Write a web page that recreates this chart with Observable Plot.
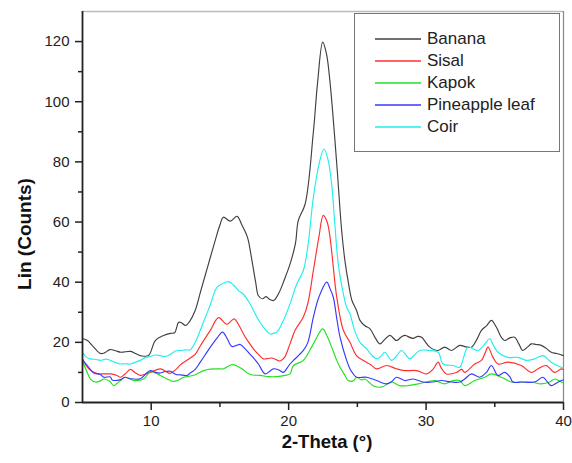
<!DOCTYPE html>
<html>
<head>
<meta charset="utf-8">
<script src="https://cdn.jsdelivr.net/npm/d3@7"></script>
<script src="https://cdn.jsdelivr.net/npm/@observablehq/plot@0.6"></script>
<style>
  body { margin: 0; background: #fff; }
  #wrap { position: relative; width: 572px; height: 463px; font-family: "Liberation Sans", Arial, sans-serif; }
  #legend { position: absolute; left: 354px; top: 13px; width: 206px; height: 139px; border: 1.5px solid #777; background: #fff; box-sizing: border-box; }
  .item { position: absolute; left: 20px; height: 22px; display: flex; align-items: center; font-size: 17px; color: #222; }
  .item svg { margin-right: 6px; }
</style>
</head>
<body>
<div id="wrap"><div id="legend"></div></div>
<script>
const seriesNames = ["Banana", "Sisal", "Kapok", "Pineapple leaf", "Coir"];
const seriesColors = ["#404040", "#ff2f2f", "#22e022", "#3838ff", "#22eeee"];
const xTicks = [10, 20, 30, 40];
const xMinorTicks = [15, 25, 35];
const yTicks = [0, 20, 40, 60, 80, 100, 120];
const yMinorTicks = [10, 30, 50, 70, 90, 110];

const banana = [[5.0,21.3],[5.36,20.6],[5.8,18.5],[6.3,16.3],[6.6,16.5],[7.0,17.6],[7.4,17.2],[7.8,16.7],[8.5,17.0],[8.9,16.2],[9.2,15.6],[9.8,15.6],[10.3,20.6],[10.9,22.3],[11.4,23.0],[11.7,23.2],[12.0,26.7],[12.2,26.5],[12.5,25.6],[12.8,27],[13.2,30.6],[13.6,37],[14.1,45],[14.6,53],[15.0,59],[15.25,61.6],[15.75,60.3],[16.25,61.9],[16.6,59],[17.0,55],[17.3,48],[17.6,40],[17.8,35.5],[18.1,34.5],[18.36,35.2],[18.6,34.3],[18.9,33.9],[19.3,36.5],[19.7,41],[20.1,46],[20.5,53],[20.7,60.5],[21.2,66],[21.8,90],[22.1,106],[22.48,119.8],[22.75,116],[23.0,107],[23.5,79.4],[23.86,57],[24.1,47],[24.34,40],[24.6,34],[24.95,30.5],[25.19,27.3],[25.55,25.5],[25.92,24.5],[26.3,21.5],[26.64,19.5],[27.0,21],[27.37,22.3],[27.85,20.6],[28.2,21.8],[28.46,22.3],[29.04,21.3],[29.4,22],[29.67,21.7],[30.27,18.4],[30.85,17.3],[31.36,18.4],[31.85,17.3],[32.45,19],[32.9,18.5],[33.3,18.4],[33.7,21],[34.03,24],[34.4,25.5],[34.75,27.3],[35.12,25],[35.5,21.5],[35.72,20.6],[36.1,21.5],[36.45,21.7],[36.75,19.5],[37.03,17.3],[37.4,18.5],[37.66,19.5],[38.0,19.3],[38.38,19],[38.75,18],[39.11,16.7],[39.5,16.3],[40,15.6]];

const sisal = [[5.0,14.3],[5.5,11],[6.07,9.6],[6.5,9.5],[7.03,9.5],[7.5,9],[7.76,8.4],[8.1,9.5],[8.49,11],[8.8,10],[9.21,9],[9.6,9.5],[9.94,10],[10.66,11.2],[11.0,10.5],[11.39,9.7],[11.8,11],[12.12,12.5],[12.84,14.8],[13.2,16],[13.57,18.8],[14.3,24],[14.9,28.2],[15.5,26],[16.04,27.8],[16.4,25.5],[16.71,22.8],[17.1,20],[17.44,17.8],[17.8,16],[18.17,14.5],[18.78,14.8],[19.38,13.8],[19.7,15],[20.1,19.5],[20.47,24],[21.07,28.4],[21.4,33],[21.8,43.9],[22.2,55],[22.52,62.2],[22.8,60],[23.01,55],[23.25,45],[23.5,35],[23.98,24],[24.46,20],[24.95,15.5],[25.5,13.8],[26.0,12.5],[26.4,11.2],[27.13,12.3],[27.85,11.2],[28.46,10.6],[29.31,10.6],[30.03,9.5],[30.5,11],[30.88,13.4],[31.1,11.5],[31.48,9.5],[32.21,10],[32.6,11],[32.81,10],[33.54,12.8],[34.03,14],[34.3,16.5],[34.51,18.4],[34.87,15],[35.23,12.8],[35.96,13.4],[36.93,12.3],[37.66,10],[38.15,11.2],[38.74,12.3],[39.35,10],[39.84,11.2],[40,11]];

const kapok = [[5.0,13.8],[5.3,10.5],[5.58,7.8],[5.94,6.8],[6.3,7.2],[6.55,7.8],[7.0,7],[7.27,5.6],[7.5,6.3],[7.76,7.3],[8.12,8.4],[8.73,7.3],[9.45,7.8],[9.94,10.3],[10.3,9.8],[10.66,9],[11.1,8],[11.63,7],[12.0,7.5],[12.36,8.4],[12.84,8.8],[13.2,9.2],[13.81,10.6],[14.3,11.1],[14.9,11.2],[15.26,11.2],[15.87,12.6],[16.3,12],[16.6,11.2],[17.2,9.3],[17.93,9],[18.53,8.6],[19.14,8.6],[19.74,9],[20.1,9.5],[20.35,12.3],[21.07,14],[21.8,19.5],[22.48,24.5],[22.8,22],[23.13,18.4],[23.5,14],[23.74,11.7],[24.1,9],[24.34,7.3],[24.7,7.2],[24.95,8.4],[25.3,7.5],[25.55,7.8],[26.15,5.6],[26.76,5.1],[27.49,6.8],[28.09,5.6],[28.7,5.6],[29.42,6.2],[30.03,6.8],[30.64,7.3],[31.36,6.2],[31.96,7.3],[32.45,7.3],[32.81,5.6],[33.54,7.3],[34.27,8.4],[34.75,9.5],[35.48,8.4],[36.21,6.8],[36.93,6.8],[37.66,6.8],[38.38,6.2],[38.99,6.8],[39.35,7.8],[39.84,6.8],[40,6.5]];

const pineapple = [[5.0,14.3],[5.4,12],[5.82,9.8],[6.3,9.3],[6.55,8.4],[7.03,8.5],[7.16,7.5],[7.76,7.6],[8.1,8.4],[8.49,7.9],[9.21,7.9],[9.6,9.5],[9.94,10.6],[10.3,10],[10.66,9.8],[11.0,10.3],[11.39,10.4],[11.8,9.3],[12.12,9.2],[12.6,9],[12.84,9.8],[13.2,11],[13.57,13.4],[14.3,18.4],[14.8,21.5],[15.19,23.4],[15.5,21.5],[15.87,18.6],[16.2,19],[16.47,19.3],[16.8,18],[17.2,16],[17.5,14.5],[17.8,12.8],[18.29,9.5],[18.65,10.5],[18.89,11.2],[19.3,10.8],[19.62,10],[19.9,11.5],[20.1,12.8],[20.35,14],[21.07,17.3],[21.4,20],[21.8,28.4],[22.2,35],[22.77,40],[23.0,38],[23.25,35],[23.5,28],[23.74,21.7],[24.22,14],[24.46,11.2],[24.7,9.5],[24.95,8.4],[25.68,8.4],[26.4,7.3],[27.13,6.2],[27.5,7],[27.85,8.4],[28.46,7.3],[29.06,7.8],[29.79,6.8],[30.5,6.8],[31.12,7.3],[31.85,6.8],[32.45,6.8],[32.81,7.8],[33.3,9.5],[33.9,8.4],[34.39,10],[34.75,12.3],[35.23,9],[35.72,10],[36.1,8.5],[36.32,6.8],[36.93,6.8],[37.9,6.8],[38.5,8.4],[38.8,7],[39.11,5.6],[39.5,6.5],[39.84,7.3],[40,7.5]];

const coir = [[5.0,16.5],[5.3,15],[5.58,14.5],[6.0,14.3],[6.31,14],[6.7,14.4],[7.03,14],[7.4,13.3],[7.76,12.8],[8.1,12.9],[8.49,12.8],[8.85,13.4],[9.21,14],[9.6,15],[9.94,15.3],[10.3,15.8],[10.66,15.6],[11.0,15.3],[11.39,16],[11.8,17.2],[12.12,17.3],[12.5,17.5],[12.84,17.5],[13.2,20],[13.57,24],[14.0,29],[14.3,32.5],[14.78,38.3],[15.2,39.5],[15.62,40.2],[16.0,39],[16.35,37.2],[16.71,36],[17.1,33.5],[17.44,30.6],[17.8,27.5],[18.17,25],[18.65,22.8],[18.9,23],[19.14,23.4],[19.62,27.3],[20.1,32.8],[20.59,39.4],[21.07,43.9],[21.4,52],[21.8,68.3],[22.2,79],[22.57,84.3],[22.85,81],[23.13,72.7],[23.35,60],[23.61,46],[23.9,38],[24.22,31.7],[24.46,29.5],[24.8,24],[25.19,20],[25.68,17.8],[26.0,16],[26.4,14.5],[26.7,15.3],[27.0,16.7],[27.49,14],[27.85,15.5],[28.22,17.3],[28.5,16],[28.82,14.5],[29.2,16],[29.55,17.3],[30.27,17.3],[30.88,16.7],[31.24,12.8],[31.96,12.3],[32.45,11.7],[32.7,14.5],[33.05,18.4],[33.78,17.3],[34.2,19],[34.63,21.2],[34.9,19],[35.23,16.7],[35.96,15],[36.69,15],[37.3,14],[37.9,14.5],[38.5,15.6],[39.11,13.4],[39.84,11.7],[40,11.5]];

const seriesData = [banana, sisal, kapok, pineapple, coir];
const rows = seriesData.flatMap((arr, i) => arr.map(([x, y]) => ({series: seriesNames[i], x, y})));

const font = "'Liberation Sans', Arial, sans-serif";
const chart = Plot.plot({
  width: 572,
  height: 463,
  marginLeft: 82,
  marginRight: 9,
  marginTop: 11,
  marginBottom: 61,
  x: {domain: [5, 40]},
  y: {domain: [0, 130]},
  color: {domain: seriesNames, range: seriesColors},
  style: {fontFamily: font, fontSize: "15px", color: "#222", background: "#fff"},
  marks: [
    Plot.ruleY([130], {stroke: "#bbb", strokeWidth: 1.5}),
    Plot.ruleX([40], {stroke: "#888", strokeWidth: 1.2}),
    Plot.line(rows, {x: "x", y: "y", z: "series", stroke: "series", curve: "catmull-rom", strokeWidth: 1.15}),
    Plot.axisY({ticks: yTicks, tickSize: 7, tickPadding: 6, label: null, strokeWidth: 1.5, fontSize: 15}),
    Plot.axisY({ticks: yMinorTicks, tickSize: 4, tickFormat: () => "", label: null, strokeWidth: 1.5}),
    Plot.axisX({ticks: xTicks, tickSize: 8, tickPadding: 5, label: null, strokeWidth: 1.5, fontSize: 15}),
    Plot.axisX({ticks: xMinorTicks, tickSize: 5, tickFormat: () => "", label: null, strokeWidth: 1.5}),
    Plot.ruleX([5], {stroke: "#222", strokeWidth: 1.8}),
    Plot.ruleY([0], {stroke: "#222", strokeWidth: 1.8}),
    Plot.text(["Lin (Counts)"], {frameAnchor: "left", textAnchor: "middle", rotate: -90, dx: -58, dy: 27, fontWeight: "bold", fontSize: 19, fill: "#111"}),
    Plot.text(["2-Theta (°)"], {frameAnchor: "bottom", textAnchor: "middle", dy: 45, dx: 4, fontWeight: "bold", fontSize: 18.5, fill: "#111"})
  ]
});
const wrap = document.getElementById("wrap");
wrap.insertBefore(chart, wrap.firstChild);

const legend = document.getElementById("legend");
seriesNames.forEach((name, i) => {
  const item = document.createElement("div");
  item.className = "item";
  item.style.top = (14 + i * 22) + "px";
  item.innerHTML = `<svg width="46" height="4"><line x1="0" x2="46" y1="2" y2="2" stroke="${seriesColors[i]}" stroke-width="1.3"/></svg><span>${name}</span>`;
  legend.appendChild(item);
});
</script>
</body>
</html>
